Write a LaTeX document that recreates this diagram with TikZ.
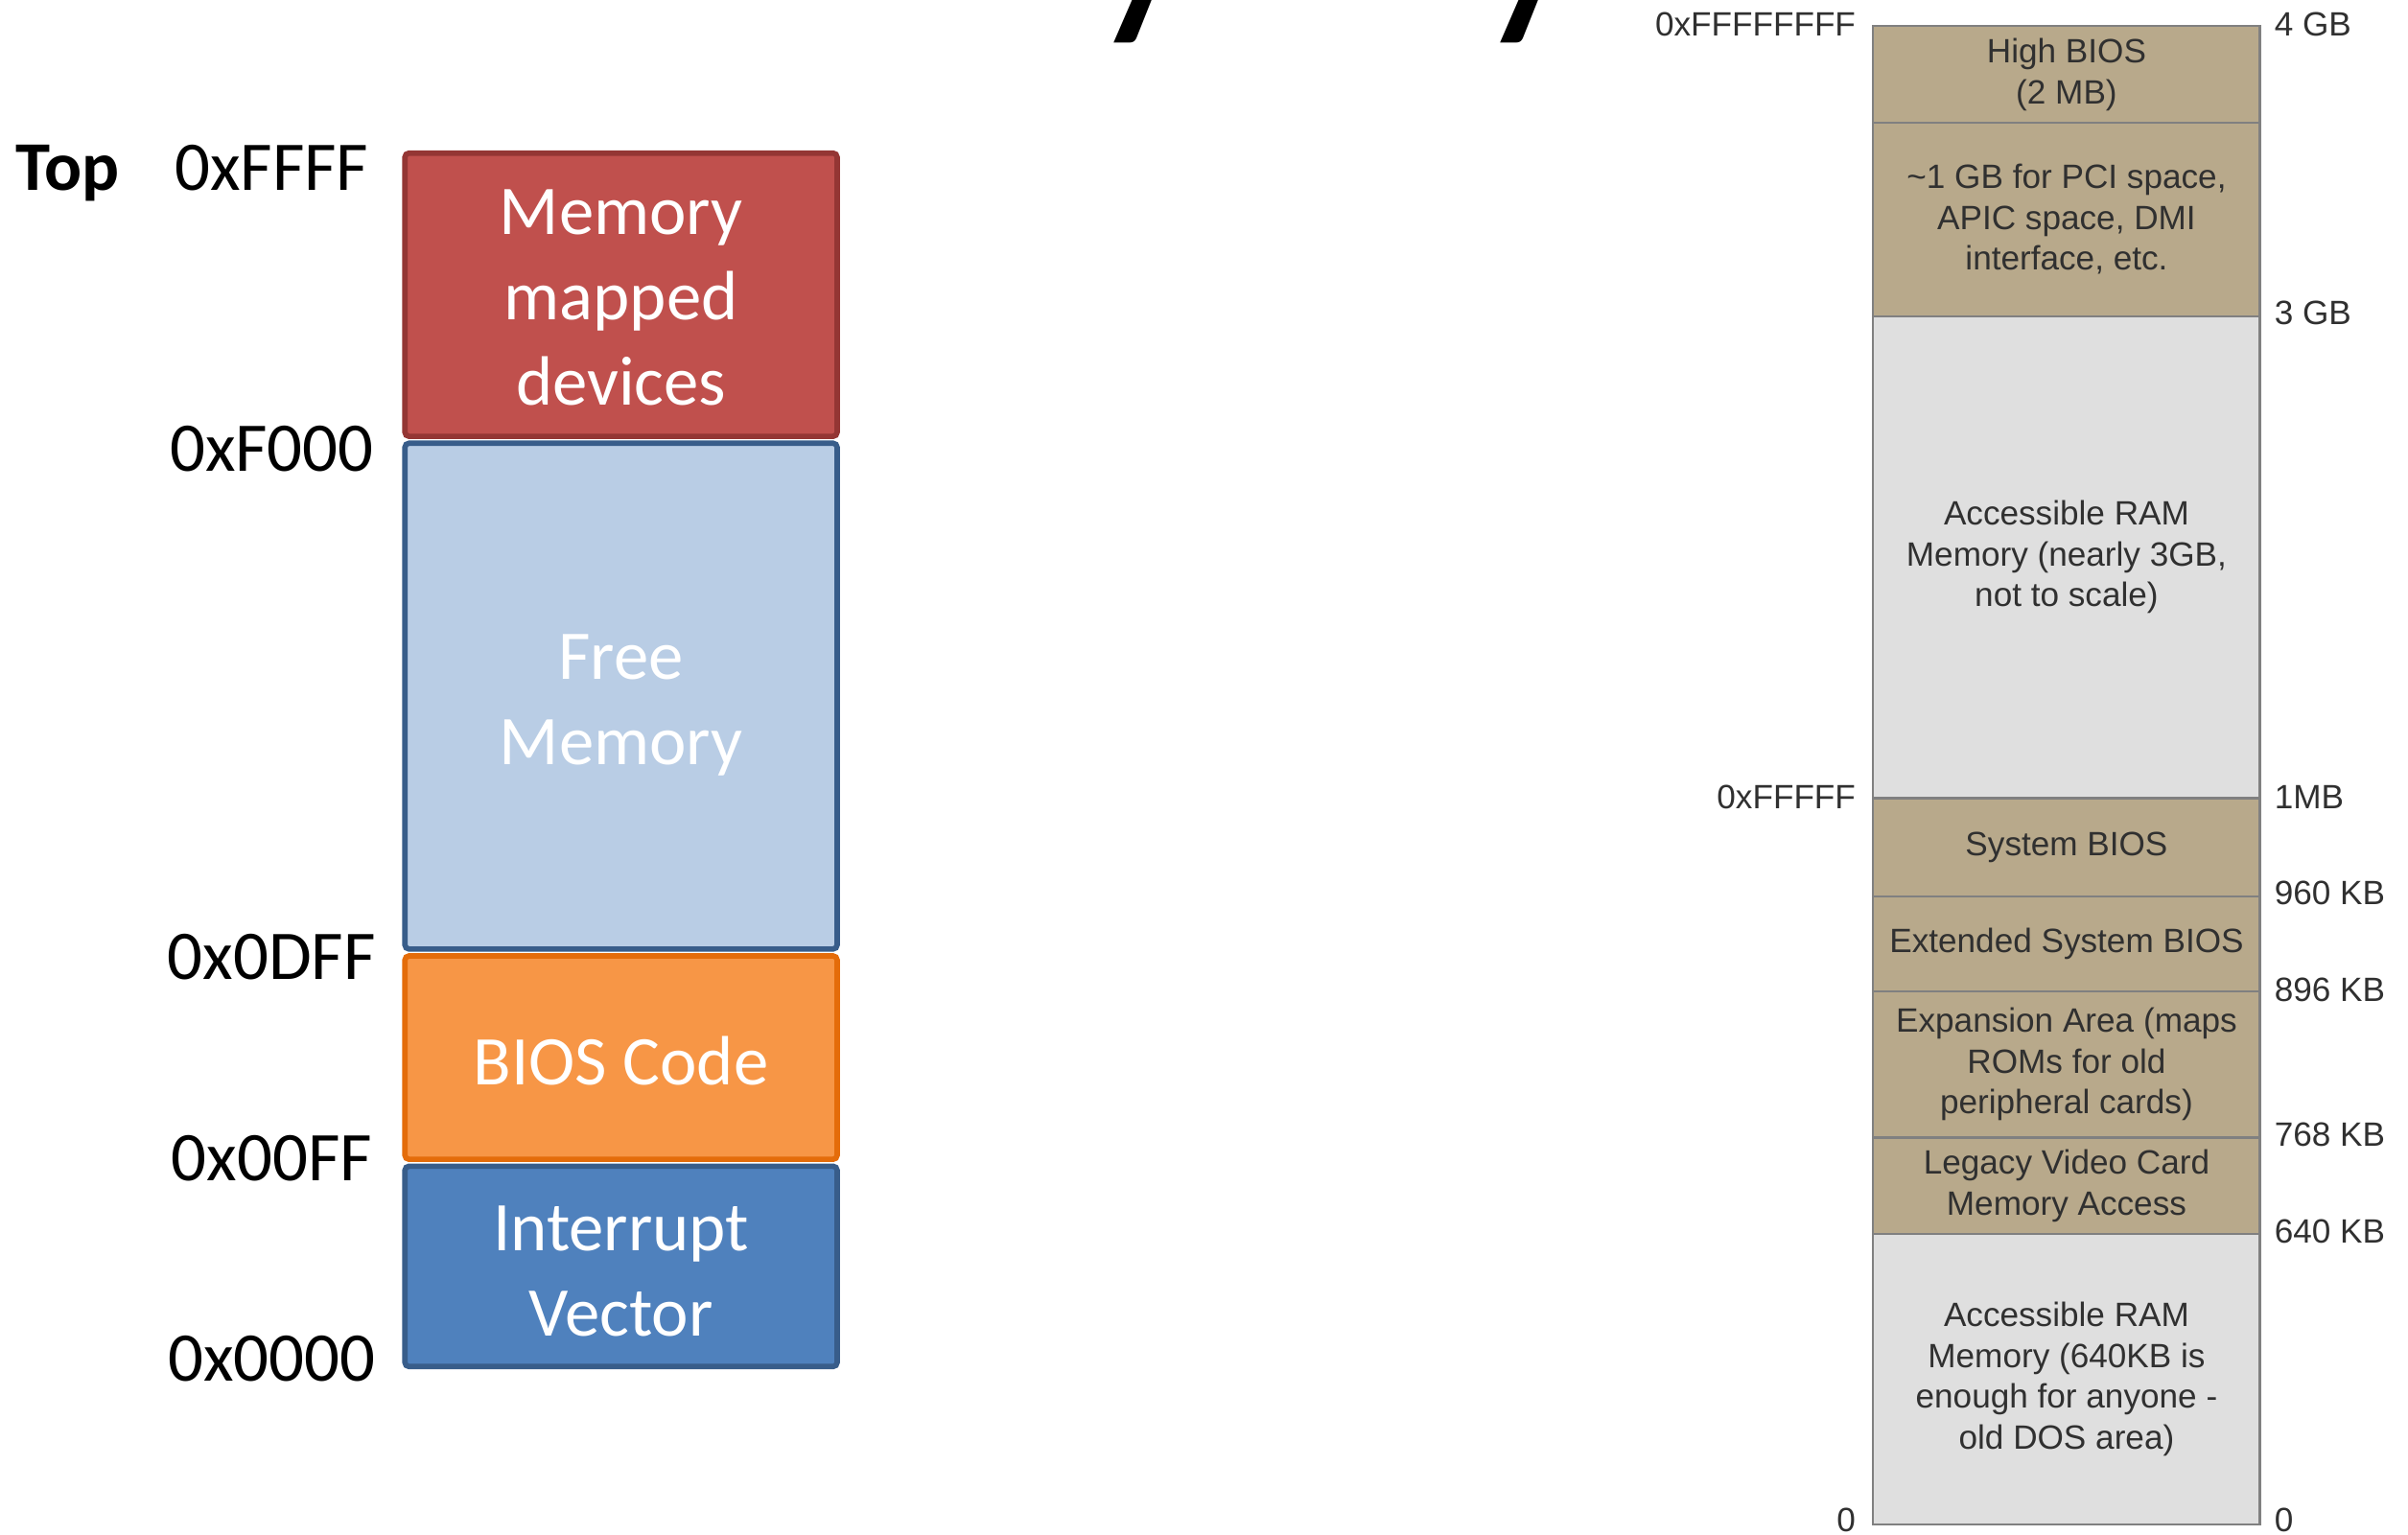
\documentclass[tikz,border=0pt]{standalone}
\usepackage{fontspec}
\setmainfont{Liberation Sans}
\newfontfamily\calfont{Carlito}
\newfontfamily\arialfont{Liberation Sans}
\definecolor{redfill}{HTML}{C0504D}
\definecolor{redline}{HTML}{943634}
\definecolor{freefill}{HTML}{B9CDE5}
\definecolor{blueline}{HTML}{385D8A}
\definecolor{orangefill}{HTML}{F79646}
\definecolor{orangeline}{HTML}{E46C0A}
\definecolor{bluefill}{HTML}{4F81BD}
\definecolor{tanfill}{HTML}{B8A98B}
\definecolor{ramfill}{HTML}{DFDFDF}
\definecolor{segline}{HTML}{808080}
\definecolor{segtext}{HTML}{303030}
\newcommand{\pxu}{0.016014cm}
\begin{document}
\begin{tikzpicture}[x=0.016014cm, y=-0.016014cm,
  addr/.style={font=\calfont\fontsize{20.7}{25.3}\selectfont, anchor=base, inner sep=0pt},
  blk/.style={draw, line width=1.6pt, rounded corners=1.2pt, minimum width={281.5*\pxu},
    inner sep=0pt},
  blktext/.style={inner sep=0pt, align=center, text=white, font=\calfont\fontsize{20.7}{25.3}\selectfont},
  seg/.style={draw=segline, line width=0.7pt, minimum width={252*\pxu}, inner sep=0pt,
    align=center, text=segtext, font=\arialfont\fontsize{10}{12.1}\selectfont},
  kb/.style={inner sep=0pt, text=segtext, font=\arialfont\fontsize{10}{12.1}\selectfont},
  ttl/.style={inner sep=0pt, anchor=base west, font=\calfont\fontsize{73}{80}\selectfont}]
\useasboundingbox (0,0) rectangle (1568.4,1000);

% descenders of the heading above the page edge
\node[ttl] (ty1) at (708,2) {y};
\node[ttl] (ty2) at (960,2) {y};

% 16-bit real-mode layout
\node[blk, fill=redfill, draw=redline, minimum height={184.5*\pxu}] (mmd) at (404.5,192) {};
\node[blk, fill=freefill, draw=blueline, minimum height={329.5*\pxu}] (free) at (404.5,453.5) {};
\node[blk, fill=orangefill, draw=orangeline, minimum height={132.5*\pxu}] (bios) at (404.5,689) {};
\node[blk, fill=bluefill, draw=blueline, minimum height={130.5*\pxu}] (ivt) at (404.5,825) {};

\node[blktext] (mmdtext) at (404.5,194) {Memory\\mapped\\devices};
\node[blktext] (freetext) at (404.5,459.5) {Free\\Memory};
\node[blktext] (biostext) at (404.5,691) {BIOS Code};
\node[blktext] (ivttext) at (404.5,828) {Interrupt\\Vector};

\node[addr, anchor=base west, font=\calfont\bfseries\fontsize{20.7}{25.3}\selectfont] (top) at (10,124) {Top};
\node[addr] (a4) at (177,124) {0xFFFF};
\node[addr] (a3) at (177,307) {0xF000};
\node[addr] (a2) at (177,638) {0x0DFF};
\node[addr] (a1) at (177,769) {0x00FF};
\node[addr] (a0) at (177,900) {0x0000};

% PC physical address space
\node[seg, fill=tanfill, minimum height={63*\pxu}] (hbios) at (1346,48.5) {High BIOS\\(2 MB)};
\node[seg, fill=tanfill, minimum height={126*\pxu}] (pci) at (1346,143)
  {\textasciitilde1 GB for PCI space,\\APIC space, DMI\\interface, etc.};
\node[seg, fill=ramfill, minimum height={314*\pxu}] (ramhi) at (1346,363)
  {Accessible RAM\\Memory (nearly 3GB,\\not to scale)};
\node[seg, fill=tanfill, minimum height={64*\pxu}] (sbios) at (1346,552) {System BIOS};
\node[seg, fill=tanfill, minimum height={62*\pxu}] (ebios) at (1346,615) {Extended System BIOS};
\node[seg, fill=tanfill, minimum height={95*\pxu}] (exp) at (1346,693.5)
  {Expansion Area (maps\\ROMs for old\\peripheral cards)};
\node[seg, fill=tanfill, minimum height={63*\pxu}] (vid) at (1346,772.5)
  {Legacy Video Card\\Memory Access};
\node[seg, fill=ramfill, minimum height={189*\pxu}] (dos) at (1346,898.5)
  {Accessible RAM\\Memory (640KB is\\enough for anyone -\\old DOS area)};

\node[kb, anchor=east] (h32) at (1209,16) {0xFFFFFFFF};
\node[kb, anchor=east] (h20) at (1209,519) {0xFFFFF};
\node[kb, anchor=east] (h0) at (1209,990) {0};
\node[kb, anchor=west] (g4) at (1481,16) {4 GB};
\node[kb, anchor=west] (g3) at (1481,204) {3 GB};
\node[kb, anchor=west] (m1) at (1481,519) {1MB};
\node[kb, anchor=west] (k960) at (1481,582) {960 KB};
\node[kb, anchor=west] (k896) at (1481,645) {896 KB};
\node[kb, anchor=west] (k768) at (1481,739) {768 KB};
\node[kb, anchor=west] (k640) at (1481,802) {640 KB};
\node[kb, anchor=west] (k0) at (1481,990) {0};
\end{tikzpicture}
\end{document}
